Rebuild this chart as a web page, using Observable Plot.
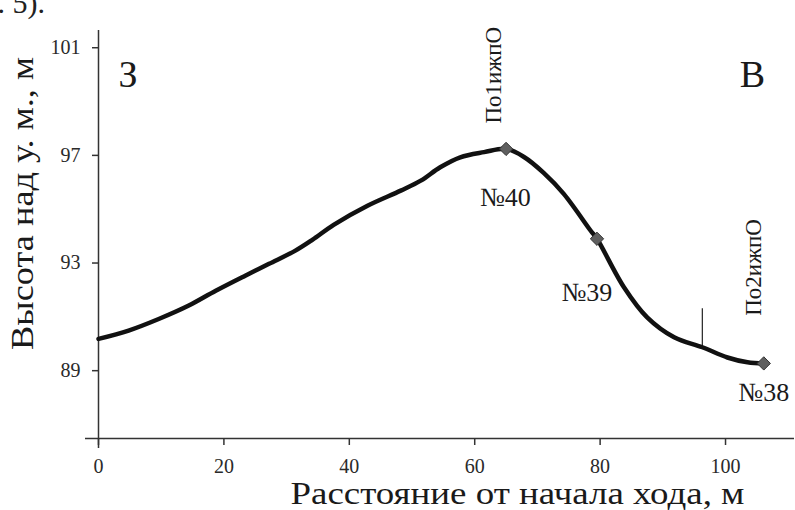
<!DOCTYPE html>
<html>
<head>
<meta charset="utf-8">
<script src="https://cdn.jsdelivr.net/npm/d3@7"></script>
<script src="https://cdn.jsdelivr.net/npm/@observablehq/plot@0.6"></script>
<style>
  html, body { margin: 0; padding: 0; background: #fff; }
  #wrap { position: relative; width: 795px; height: 510px; overflow: hidden; font-family: "Liberation Serif", "Times New Roman", serif; }
  #frag { position: absolute; left: -75px; top: -14px; width: 120px; text-align: right; font-size: 30px; line-height: 34px; color: #222; white-space: nowrap; }
  svg { display: block; }
</style>
</head>
<body>
<div id="wrap">
  <div id="chart"></div>
  <div id="frag">рис. 5).</div>
</div>
<script>
// Profile: distance from start (m) vs. elevation (m)
const distance = [0, 4.8, 9.6, 14.4, 18.7, 23.4, 27.2, 31.4, 34.1, 37.5, 42.9, 48.2, 51.4, 54.5, 57.7, 61.5, 65, 67.8, 71, 74.2, 78.5, 79.5, 83.8, 87.5, 91.8, 96.3, 100.3, 103.5, 106.1];
const elevation = [90.18, 90.49, 90.92, 91.42, 91.97, 92.53, 92.97, 93.46, 93.86, 94.42, 95.13, 95.69, 96.06, 96.56, 96.93, 97.12, 97.24, 96.95, 96.35, 95.57, 94.2, 93.9, 92.1, 90.98, 90.24, 89.87, 89.49, 89.31, 89.27];

// Stations (markers)
const stationX = [65, 79.5, 106.1];
const stationY = [97.24, 93.9, 89.27];
const stationNames = ["№40", "№39", "№38"];
const stationLabelX = [64.9, 77.9, 106.1];
const stationLabelY = [95.43, 91.91, 88.17];

// Vertical labels
const sideLabels = ["По1ижпО", "По2ижпО"];
const sideLabelX = [63.0, 104.5];
const sideLabelY = [98.18, 91.04];

// Direction letters
const dirLabels = ["З", "В"];
const dirX = [4.7, 104.3];
const dirY = [100, 100];

// Small vertical marker line
const markX = [96.3];
const markY1 = [89.87];
const markY2 = [91.3];

const xTicks = [0, 20, 40, 60, 80, 100];
const yTicks = [89, 93, 97, 101];
const xDomain = [0, 111];
const yDomain = [86.48, 101.64];

const xTitle = "Расстояние от начала хода, м";
const yTitle = "Высота над у. м., м";

const profile = distance.map((d, i) => ({x: d, y: elevation[i]}));
const stations = stationX.map((d, i) => ({x: d, y: stationY[i]}));
const stationLabels = stationNames.map((t, i) => ({t, x: stationLabelX[i], y: stationLabelY[i]}));
const sides = sideLabels.map((t, i) => ({t, x: sideLabelX[i], y: sideLabelY[i]}));
const dirs = dirLabels.map((t, i) => ({t, x: dirX[i], y: dirY[i]}));
const marks = markX.map((d, i) => ({x: d, y1: markY1[i], y2: markY2[i]}));

const axisColor = "#333";
const font = "'Liberation Serif', 'Times New Roman', serif";

const chart = Plot.plot({
  width: 795,
  height: 510,
  marginTop: 30,
  marginBottom: 72,
  marginLeft: 98,
  marginRight: 1,
  style: {fontFamily: font, background: "#fff", color: "#222"},
  x: {domain: xDomain},
  y: {domain: yDomain},
  marks: [
    // axis lines
    Plot.ruleY([yDomain[0]], {stroke: axisColor, strokeWidth: 1.5, insetLeft: -13}),
    Plot.ruleX([0], {stroke: axisColor, strokeWidth: 1.5, insetBottom: -10}),
    Plot.axisX({ticks: xTicks, tickSize: 7, tickPadding: 13, fontSize: 20, stroke: axisColor, strokeWidth: 1.5, fill: "#2a2a2a", label: null}),
    Plot.axisY({ticks: yTicks, tickSize: 6, tickPadding: 12, fontSize: 20, stroke: axisColor, strokeWidth: 1.5, fill: "#2a2a2a", label: null}),
    // axis titles
    Plot.text([xTitle], {frameAnchor: "bottom", text: d => d, textAnchor: "middle", dx: 71, dy: 56, fontSize: 31, fill: "#1a1a1a", lineAnchor: "middle"}),
    Plot.text([yTitle], {frameAnchor: "left", text: d => d, textAnchor: "middle", rotate: -90, dx: -75, dy: -31, fontSize: 31, fill: "#1a1a1a", lineAnchor: "middle"}),
    // vertical marker line
    Plot.ruleX(marks, {x: "x", y1: "y1", y2: "y2", stroke: "#222", strokeWidth: 1.2}),
    // profile line
    Plot.line(profile, {x: "x", y: "y", curve: "catmull-rom", stroke: "#111", strokeWidth: 4.5, strokeLinejoin: "round", strokeLinecap: "round"}),
    // station markers
    Plot.dot(stations, {x: "x", y: "y", symbol: "diamond2", r: 6, fill: "#5f5f5f", stroke: "#333", strokeWidth: 1}),
    // labels
    Plot.text(stationLabels, {x: "x", y: "y", text: "t", fontSize: 26, fill: "#1a1a1a"}),
    Plot.text(sides, {x: "x", y: "y", text: "t", rotate: -90, textAnchor: "start", lineAnchor: "middle", fontSize: 23, fill: "#1a1a1a"}),
    Plot.text(dirs, {x: "x", y: "y", text: "t", fontSize: 38, fill: "#1a1a1a"})
  ]
});
document.getElementById("chart").appendChild(chart);

// stretch axis titles to the widths seen in the reference
d3.select(chart).selectAll("text")
  .filter(function () { return this.textContent === xTitle; })
  .attr("textLength", 454).attr("lengthAdjust", "spacingAndGlyphs");
d3.select(chart).selectAll("text")
  .filter(function () { return this.textContent === yTitle; })
  .attr("textLength", 293).attr("lengthAdjust", "spacingAndGlyphs");
</script>
</body>
</html>
